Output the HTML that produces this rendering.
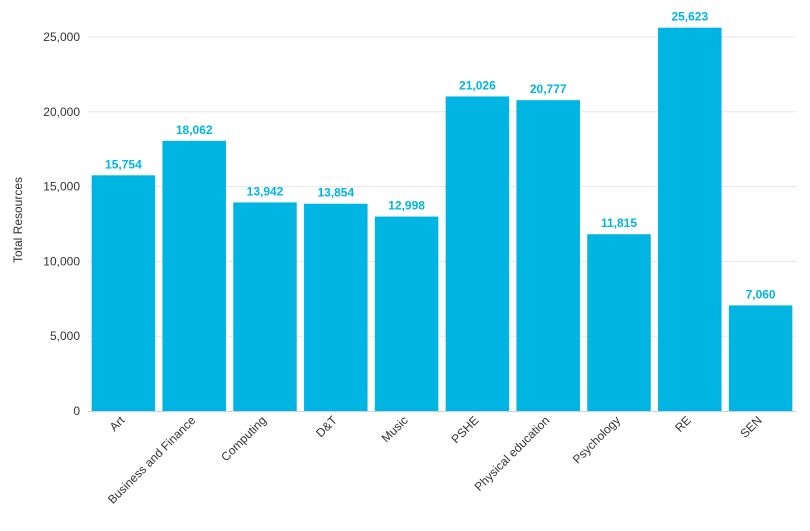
<!DOCTYPE html>
<html><head><meta charset="utf-8"><style>
body{margin:0;background:#fff;font-family:"Liberation Sans",sans-serif}
svg text{font-family:"Liberation Sans",sans-serif}
</style></head><body>
<svg id="c" width="810" height="526" xmlns="http://www.w3.org/2000/svg"></svg>
<script>
const categories=["Art","Business and Finance","Computing","D&T","Music","PSHE","Physical education","Psychology","RE","SEN"];
const values=[15754,18062,13942,13854,12998,21026,20777,11815,25623,7060];
const yTicks=[0,5000,10000,15000,20000,25000];
const NS="http://www.w3.org/2000/svg";
const svg=document.getElementById('c');
const x0=88,x1=796,yBase=411,yTop=37,yMaxV=25000;
const band=(x1-x0)/categories.length,barW=63.5;
const y=v=>yBase-(v/yMaxV)*(yBase-yTop);
const xc=i=>x0+band*(i+0.5);
function el(t,a){const e=document.createElementNS(NS,t);for(const k in a)e.setAttribute(k,a[k]);svg.appendChild(e);return e;}
yTicks.forEach(t=>{
 if(t>0){const g=el('line',{x1:x0,x2:x1,y1:y(t),y2:y(t),stroke:'#e6e6e6','stroke-width':1});
 
 }
 const l=el('text',{x:80,y:y(t)+4,'text-anchor':'end','font-size':12,fill:'#333'});
 l.textContent=t.toLocaleString('en-US');
 
 
});
const at=el('text',{x:22,y:220,'text-anchor':'middle','font-size':12,fill:'#333',transform:'rotate(-90 22 220)'});
at.textContent='Total Resources';


categories.forEach((c,i)=>{
 const b=el('rect',{x:xc(i)-barW/2,y:y(values[i]),width:barW,height:yBase-y(values[i]),fill:'#00b5e2'});
 
 
 const v=el('text',{x:xc(i),y:y(values[i])-7,'text-anchor':'middle','font-size':12,'font-weight':'bold',fill:'#00b5e2'});
 v.textContent=values[i].toLocaleString('en-US');
 
 
 const tx=xc(i)+2,ty=421;
 const l=el('text',{x:tx,y:ty,'text-anchor':'end','font-size':12,fill:'#333',transform:`rotate(-45 ${tx} ${ty})`});
 l.textContent=c;
 
 
});
const ax=el('line',{x1:x0,x2:x1,y1:yBase+0.5,y2:yBase+0.5,stroke:'#c8d3e0','stroke-width':1});


</script>
</body></html>
